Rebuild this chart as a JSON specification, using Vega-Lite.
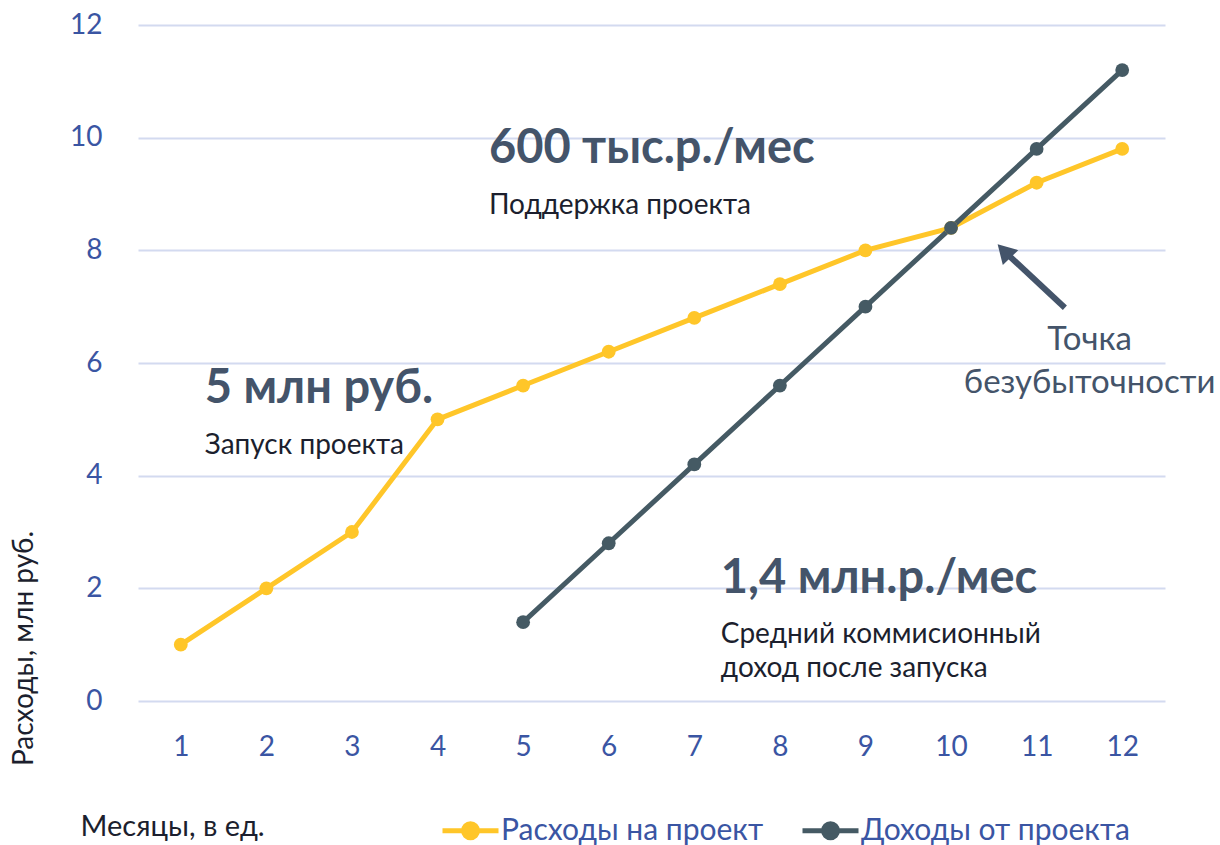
{
  "$schema": "https://vega.github.io/schema/vega-lite/v6.json",
  "autosize": {"type": "none"},
  "padding": {"left": 138, "top": 25, "right": 55, "bottom": 144},
  "width": 1027,
  "height": 676,
  "background": "white",
  "config": {
    "font": "Lato",
    "view": {"stroke": null}
  },
  "datasets": {
    "series": [
      {"month": 1, "value": 1.0, "series": "Расходы на проект"},
      {"month": 2, "value": 2.0, "series": "Расходы на проект"},
      {"month": 3, "value": 3.0, "series": "Расходы на проект"},
      {"month": 4, "value": 5.0, "series": "Расходы на проект"},
      {"month": 5, "value": 5.6, "series": "Расходы на проект"},
      {"month": 6, "value": 6.2, "series": "Расходы на проект"},
      {"month": 7, "value": 6.8, "series": "Расходы на проект"},
      {"month": 8, "value": 7.4, "series": "Расходы на проект"},
      {"month": 9, "value": 8.0, "series": "Расходы на проект"},
      {"month": 10, "value": 8.4, "series": "Расходы на проект"},
      {"month": 11, "value": 9.2, "series": "Расходы на проект"},
      {"month": 12, "value": 9.8, "series": "Расходы на проект"},
      {"month": 5, "value": 1.4, "series": "Доходы от проекта"},
      {"month": 6, "value": 2.8, "series": "Доходы от проекта"},
      {"month": 7, "value": 4.2, "series": "Доходы от проекта"},
      {"month": 8, "value": 5.6, "series": "Доходы от проекта"},
      {"month": 9, "value": 7.0, "series": "Доходы от проекта"},
      {"month": 10, "value": 8.4, "series": "Доходы от проекта"},
      {"month": 11, "value": 9.8, "series": "Доходы от проекта"},
      {"month": 12, "value": 11.2, "series": "Доходы от проекта"}
    ],
    "boldNotes": [
      {"x": 1.28, "y": 5.54, "text": "5 млн руб."},
      {"x": 4.6, "y": 9.8, "text": "600 тыс.р./мес"},
      {"x": 7.31, "y": 2.17, "text": "1,4 млн.р./мес"}
    ],
    "plainNotes": [
      {"x": 1.28, "y": 4.53, "text": "Запуск проекта"},
      {"x": 4.6, "y": 8.79, "text": "Поддержка проекта"},
      {"x": 7.31, "y": 1.17, "text": "Средний коммисионный"},
      {"x": 7.31, "y": 0.57, "text": "доход после запуска"}
    ],
    "centerNotes": [
      {"x": 11.62, "y": 6.41, "text": "Точка"},
      {"x": 11.62, "y": 5.65, "text": "безубыточности"}
    ],
    "arrow": [
      {"x": 11.33, "y": 6.98, "order": 1},
      {"x": 10.66, "y": 7.93, "order": 2}
    ],
    "arrowHead": [
      {"x": 10.62, "y": 7.99}
    ]
  },
  "layer": [
    {
      "data": {"name": "series"},
      "mark": {"type": "line", "strokeWidth": 5, "point": {"filled": true, "size": 190, "opacity": 1}},
      "encoding": {
        "x": {
          "field": "month", "type": "quantitative",
          "scale": {"domain": [0.5, 12.5], "nice": false, "zero": false},
          "axis": {
            "values": [1, 2, 3, 4, 5, 6, 7, 8, 9, 10, 11, 12],
            "format": "d",
            "grid": false, "domain": false, "ticks": false,
            "labelFontSize": 28, "labelColor": "#3a55a3", "labelPadding": 32,
            "title": "Месяцы, в ед.",
            "titleFontSize": 29, "titleFontWeight": "normal", "titleColor": "#1c1f2e",
            "titleAlign": "left", "titleBaseline": "middle",
            "titleX": -58, "titleY": 125
          }
        },
        "y": {
          "field": "value", "type": "quantitative",
          "scale": {"domain": [0, 12], "nice": false},
          "axis": {
            "values": [0, 2, 4, 6, 8, 10, 12],
            "format": "d",
            "grid": true, "gridColor": "#d3daf0", "gridWidth": 2,
            "domain": false, "ticks": false,
            "labelFontSize": 28, "labelColor": "#3a55a3", "labelPadding": 36,
            "title": "Расходы, млн руб.",
            "titleFontSize": 28, "titleFontWeight": "normal", "titleColor": "#1c1f2e",
            "titleAlign": "center", "titleBaseline": "middle",
            "titleX": -114, "titleY": 623
          }
        },
        "color": {
          "field": "series", "type": "nominal",
          "scale": {"domain": ["Расходы на проект", "Доходы от проекта"], "range": ["#ffc629", "#455a64"]},
          "legend": {
            "title": null,
            "orient": "none",
            "direction": "horizontal",
            "legendX": 302,
            "legendY": 775,
            "symbolType": "M-1,0H1M0.25,0A0.25,0.25,0,1,1,-0.25,0A0.25,0.25,0,1,1,0.25,0Z",
            "symbolSize": 3136,
            "symbolStrokeWidth": 5,
            "labelFontSize": 30,
            "labelColor": "#3a55a3",
            "labelOffset": 0,
            "labelLimit": 500,
            "columnPadding": 28
          }
        }
      }
    },
    {
      "data": {"name": "arrow"},
      "mark": {"type": "line", "color": "#44546a", "strokeWidth": 6},
      "encoding": {
        "x": {"field": "x", "type": "quantitative"},
        "y": {"field": "y", "type": "quantitative"},
        "order": {"field": "order"}
      }
    },
    {
      "data": {"name": "arrowHead"},
      "mark": {"type": "point", "shape": "triangle-up", "filled": true, "color": "#44546a", "size": 460, "angle": 316, "opacity": 1},
      "encoding": {
        "x": {"field": "x", "type": "quantitative"},
        "y": {"field": "y", "type": "quantitative"}
      }
    },
    {
      "data": {"name": "boldNotes"},
      "mark": {"type": "text", "align": "left", "baseline": "middle", "fontSize": 47, "fontWeight": "bold", "color": "#44546a"},
      "encoding": {
        "x": {"field": "x", "type": "quantitative"},
        "y": {"field": "y", "type": "quantitative"},
        "text": {"field": "text"}
      }
    },
    {
      "data": {"name": "plainNotes"},
      "mark": {"type": "text", "align": "left", "baseline": "middle", "fontSize": 28, "color": "#1c1f2e"},
      "encoding": {
        "x": {"field": "x", "type": "quantitative"},
        "y": {"field": "y", "type": "quantitative"},
        "text": {"field": "text"}
      }
    },
    {
      "data": {"name": "centerNotes"},
      "mark": {"type": "text", "align": "center", "baseline": "middle", "fontSize": 33, "color": "#44546a"},
      "encoding": {
        "x": {"field": "x", "type": "quantitative"},
        "y": {"field": "y", "type": "quantitative"},
        "text": {"field": "text"}
      }
    }
  ]
}
